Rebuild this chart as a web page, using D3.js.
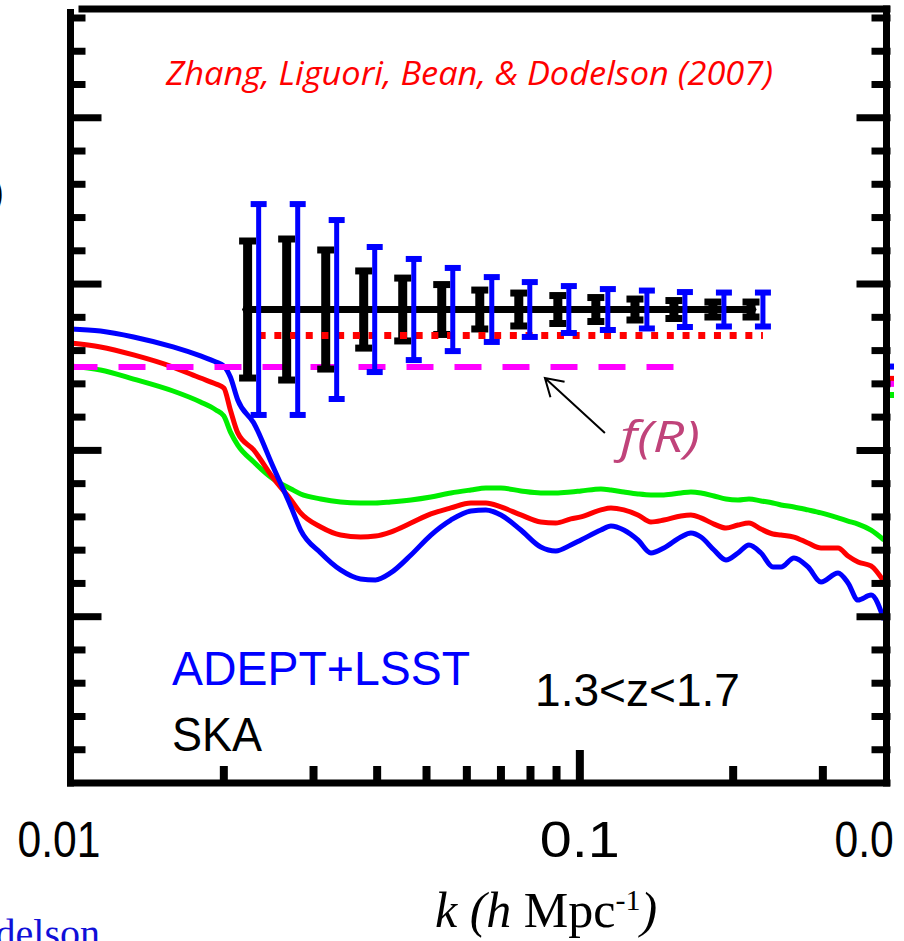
<!DOCTYPE html>
<html><head><meta charset="utf-8">
<script src="https://cdn.jsdelivr.net/npm/d3@7"></script>
<style>html,body{margin:0;padding:0;background:#fff;overflow:hidden}</style>
</head><body><svg id="c" width="904" height="941"></svg>
<script>
// ---------- data ----------
const curveK = [0.0100,0.01145,0.0133,0.0159,0.0180,0.0193,0.0200,0.0206,0.0213,0.0229,0.0250,0.0271,0.0283,0.0310,0.0339,0.0371,0.0397,0.0425,0.0466,0.0510,0.0558,0.0611,0.0654,0.0700,0.0766,0.0838,0.0897,0.0960,0.1005,0.110,0.1151,0.1220,0.1300,0.1379,0.1462,0.1579,0.1652,0.1729,0.1834,0.1936,0.2044,0.2148,0.2268,0.2394,0.2483,0.2633,0.2805,0.2975,0.3213,0.3361,0.3517,0.3730,0.3956];
const blueCurve = [0.2730,0.2718,0.2682,0.2622,0.2568,0.2532,0.2508,0.2441,0.2303,0.2165,0.1900,0.1660,0.1521,0.1383,0.1281,0.1227,0.1221,0.1263,0.1371,0.1491,0.1581,0.1636,0.1642,0.1612,0.1521,0.1419,0.1395,0.1431,0.1461,0.1521,0.1545,0.1521,0.1461,0.1383,0.1413,0.1479,0.1503,0.1479,0.1401,0.1341,0.1383,0.1431,0.1383,0.1299,0.1299,0.1353,0.1299,0.1209,0.1263,0.1203,0.1100,0.1130,0.0980];
const redCurve = [0.2646,0.2622,0.2574,0.2501,0.2435,0.2399,0.2375,0.2243,0.2105,0.2002,0.1834,0.1702,0.1624,0.1539,0.1491,0.1479,0.1485,0.1509,0.1563,0.1618,0.1654,0.1684,0.1684,0.1660,0.1612,0.1569,0.1563,0.1588,0.1600,0.1642,0.1654,0.1642,0.1612,0.1569,0.1581,0.1606,0.1612,0.1594,0.1557,0.1533,0.1551,0.1563,0.1527,0.1497,0.1491,0.1479,0.1443,0.1413,0.1413,0.1365,0.1329,0.1305,0.1209];
const greenCurve = [0.2508,0.2483,0.2429,0.2357,0.2291,0.2243,0.2207,0.2111,0.2032,0.1930,0.1828,0.1768,0.1738,0.1708,0.1690,0.1684,0.1684,0.1690,0.1702,0.1720,0.1744,0.1762,0.1774,0.1774,0.1756,0.1744,0.1744,0.1750,0.1756,0.1768,0.1762,0.1750,0.1738,0.1732,0.1732,0.1744,0.1750,0.1744,0.1726,0.1708,0.1702,0.1708,0.1696,0.1684,0.1672,0.1660,0.1642,0.1624,0.1594,0.1575,0.1557,0.1521,0.1461];

const skaK = [0.02227,0.02657,0.03170,0.03764,0.04490,0.05356,0.06361,0.07588,0.09053,0.1075,0.1283,0.1530,0.1825,0.2168];
const skaErr = [0.0412,0.0424,0.0358,0.0232,0.0189,0.0150,0.0117,0.0099,0.0084,0.0072,0.0063,0.0054,0.0045,0.0045];
const adeptK = [0.02341,0.02793,0.03331,0.03956,0.04720,0.05630,0.06716,0.07975,0.09515,0.1135,0.1354,0.1608,0.1918,0.2288];
const adeptErr = [0.0634,0.0634,0.0538,0.0376,0.0304,0.0250,0.0195,0.0165,0.0141,0.0123,0.0114,0.0105,0.0102,0.0102];
const fiducialValue = 0.2847;

const dottedLevel = 0.2691;           // red dotted line
const dottedRange = [0.02341, 0.2288];
const fRLevel = 0.2501;               // magenta dashed line, f(R)
const fRRange = [0.01, 0.153];
const arrowTail = [0.1120, 0.2105];
const arrowHead = [0.0854, 0.2435];

const nextPanelNames = ["blue","red","magenta","green"];
const nextPanelValues = [0.2504, 0.2430, 0.2400, 0.2333];

const xMinorTicks = [0.02,0.03,0.04,0.05,0.06,0.07,0.08,0.09,0.2,0.3];
const xMajorTicks = [0.1];
const xTickLabels = ["0.01","0.1","0.01"];
const yTicks = d3.range(1,24).map(i => +(i*0.02).toFixed(2));

// ---------- scales ----------
const svg = d3.select("#c");
const x = d3.scaleLog().domain([0.01, 0.4]).range([70.5, 886.5]);
const y = d3.scaleLinear().domain([0, 0.4654]).range([783, 9]);
const colors = {blue:"#0000ff", red:"#ff0000", green:"#00ee00", magenta:"#ff00ff", black:"#000000"};

svg.append("defs").append("clipPath").attr("id","slide")
  .append("rect").attr("x",-20).attr("y",0).attr("width",914).attr("height",941);

// ---------- curves ----------
const line = d3.line().x(d => x(d[0])).y(d => y(d[1])).curve(d3.curveMonotoneX);
[["green",greenCurve],["red",redCurve],["blue",blueCurve]].forEach(([c,vals]) => {
  svg.append("path").attr("d", line(curveK.map((k,i)=>[k, vals[i]])))
    .attr("fill","none").attr("stroke",colors[c]).attr("stroke-width",5).attr("stroke-linejoin","round");
});

// f(R) dashed
svg.append("line").attr("x1",x(fRRange[0])).attr("x2",x(fRRange[1]))
  .attr("y1",y(fRLevel)).attr("y2",y(fRLevel))
  .attr("stroke",colors.magenta).attr("stroke-width",6).attr("stroke-dasharray","27,21");

// SKA black line + bars
svg.append("line").attr("x1",x(skaK[0])-4).attr("x2",x(skaK[skaK.length-1]))
  .attr("y1",y(fiducialValue)).attr("y2",y(fiducialValue))
  .attr("stroke","#000").attr("stroke-width",7);
const gS = svg.append("g");
skaK.forEach((k,i) => {
  const cx = x(k), y0 = y(fiducialValue - skaErr[i]), y1 = y(fiducialValue + skaErr[i]);
  gS.append("line").attr("x1",cx).attr("x2",cx).attr("y1",y0).attr("y2",y1).attr("stroke","#000").attr("stroke-width",9);
  [y0,y1].forEach(yy => gS.append("line").attr("x1",cx-8.5).attr("x2",cx+8.5).attr("y1",yy).attr("y2",yy).attr("stroke","#000").attr("stroke-width",7));
  gS.append("path").attr("d", d3.symbol(d3.symbolDiamond, 110)()).attr("transform",`translate(${cx},${y(fiducialValue)})`).attr("fill","#000");
});

// red dotted
svg.append("line").attr("x1",x(dottedRange[0])).attr("x2",x(dottedRange[1]))
  .attr("y1",y(dottedLevel)).attr("y2",y(dottedLevel))
  .attr("stroke",colors.red).attr("stroke-width",7).attr("stroke-dasharray","7,8.7");

// ADEPT+LSST blue bars
const gA = svg.append("g");
adeptK.forEach((k,i) => {
  const cx = x(k), y0 = y(fiducialValue - adeptErr[i]), y1 = y(fiducialValue + adeptErr[i]);
  gA.append("line").attr("x1",cx).attr("x2",cx).attr("y1",y0).attr("y2",y1).attr("stroke",colors.blue).attr("stroke-width",5);
  [y0,y1].forEach(yy => gA.append("line").attr("x1",cx-8).attr("x2",cx+8).attr("y1",yy).attr("y2",yy).attr("stroke",colors.blue).attr("stroke-width",6));
});

// next panel stubs (right of the axis), clipped like the slide
nextPanelNames.forEach((c,i) => {
  svg.append("line").attr("x1",x(0.4)).attr("x2",x(0.4)+8)
    .attr("y1",y(nextPanelValues[i])).attr("y2",y(nextPanelValues[i]))
    .attr("stroke",colors[c]).attr("stroke-width",6).attr("clip-path","url(#slide)");
});

// ---------- frame & ticks ----------
const fr = svg.append("g").attr("stroke","#000");
const X0 = x(0.01), X1 = x(0.4), Y0 = y(0), Y1 = y.range()[1];
fr.append("line").attr("x1",X0).attr("x2",X0).attr("y1",Y1).attr("y2",Y0+3.5).attr("stroke-width",7);
fr.append("line").attr("x1",X0-3.5).attr("x2",X1+4).attr("y1",Y0).attr("y2",Y0).attr("stroke-width",7);
fr.append("line").attr("x1",X0+8).attr("x2",X1+4).attr("y1",Y1).attr("y2",Y1).attr("stroke-width",7);
fr.append("line").attr("x1",X1).attr("x2",X1).attr("y1",Y1-3.5).attr("y2",Y0+3.5).attr("stroke-width",7);
yTicks.forEach((v,i) => {
  const major = Math.abs(v*10 - Math.round(v*10)) < 1e-6;
  const yy = y(v);
  fr.append("line").attr("x1",X0).attr("x2",X0 + (major?31:15)).attr("y1",yy).attr("y2",yy).attr("stroke-width",7);
  fr.append("line").attr("x1",X1+4).attr("x2",X1 - (major?30:15)).attr("y1",yy).attr("y2",yy).attr("stroke-width",7);
});
xMinorTicks.forEach(k => fr.append("line").attr("x1",x(k)).attr("x2",x(k)).attr("y1",Y0).attr("y2",Y0-17).attr("stroke-width",8));
xMajorTicks.forEach(k => fr.append("line").attr("x1",x(k)).attr("x2",x(k)).attr("y1",Y0).attr("y2",Y0-33).attr("stroke-width",8));

// ---------- text ----------
const tickFont = "'Liberation Sans Narrow','Arial Narrow','Liberation Sans',sans-serif";
const tickPos = [[x(0.01)-53, 83],[x(0.1)-40, 80],[x(0.4)-52, 83]];
xTickLabels.forEach((t,i) => {
  svg.append("text").attr("x",tickPos[i][0]).attr("y",857).text(t)
    .attr("font-family",tickFont).attr("font-size",50).attr("fill","#000")
    .attr("textLength",tickPos[i][1]).attr("lengthAdjust","spacingAndGlyphs")
    .attr("clip-path", i === 2 ? "url(#slide)" : null);
});

const xt = svg.append("text").attr("x",435).attr("y",927).attr("font-family","'Liberation Serif','Times New Roman',serif").attr("font-size",50).attr("fill","#000");
xt.append("tspan").attr("font-style","italic").text("k (h ");
xt.append("tspan").text("Mpc");
xt.append("tspan").attr("font-size",30).attr("dy",-17).text("-1");
xt.append("tspan").attr("font-style","italic").attr("dy",17).text(")");

svg.append("text").attr("x",166).attr("y",85).text("Zhang, Liguori, Bean, & Dodelson (2007)")
  .attr("font-family","'Open Sans','Noto Sans',sans-serif").attr("font-style","italic").attr("font-size",32)
  .attr("fill","#ff0000").attr("textLength",607).attr("lengthAdjust","spacingAndGlyphs");

svg.append("text").attr("x",172).attr("y",685).text("ADEPT+LSST")
  .attr("font-family","'Liberation Sans',Arial,sans-serif").attr("font-size",48).attr("fill","#0000ff")
  .attr("textLength",298).attr("lengthAdjust","spacingAndGlyphs");
svg.append("text").attr("x",172).attr("y",751).text("SKA")
  .attr("font-family","'Liberation Sans',Arial,sans-serif").attr("font-size",48).attr("fill","#000")
  .attr("textLength",90).attr("lengthAdjust","spacingAndGlyphs");
svg.append("text").attr("x",535).attr("y",706).text("1.3<z<1.7")
  .attr("font-family","'Liberation Sans',Arial,sans-serif").attr("font-size",46).attr("fill","#000")
  .attr("textLength",205).attr("lengthAdjust","spacingAndGlyphs");

svg.append("text").attr("x",620).attr("y",452).text("f(R)")
  .attr("font-family","'Open Sans','Noto Sans',sans-serif").attr("font-style","italic").attr("font-size",44)
  .attr("fill","#c0437a").attr("textLength",80).attr("lengthAdjust","spacingAndGlyphs");

svg.append("text").attr("x",100).attr("y",947).attr("text-anchor","end").text("Dodelson")
  .attr("font-family","'Liberation Serif','Times New Roman',serif").attr("font-size",40).attr("fill","#1010d8");
svg.append("text").attr("x",4).attr("y",206).attr("text-anchor","end").text(")")
  .attr("font-family","'Liberation Sans',Arial,sans-serif").attr("font-size",40).attr("fill","#000");

// arrow
const hx = x(arrowHead[0]), hy = y(arrowHead[1]), tx = x(arrowTail[0]), ty = y(arrowTail[1]);
const ang = Math.atan2(ty-hy, tx-hx), L = 20, sp = 0.55;
svg.append("path")
  .attr("d", `M${tx},${ty}L${hx},${hy}M${hx+L*Math.cos(ang-sp)},${hy+L*Math.sin(ang-sp)}L${hx},${hy}L${hx+L*Math.cos(ang+sp)},${hy+L*Math.sin(ang+sp)}`)
  .attr("fill","none").attr("stroke","#000").attr("stroke-width",2);
</script></body></html>
